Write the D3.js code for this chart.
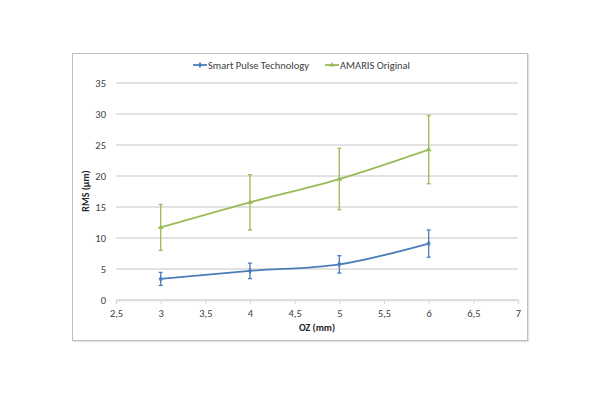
<!DOCTYPE html>
<html>
<head>
<meta charset="utf-8">
<script src="https://cdn.jsdelivr.net/npm/d3@7"></script>
<style>
body { margin: 0; background: #fff; }
text { font-family: Calibri, Carlito, "Open Sans", "Liberation Sans", sans-serif; }
</style>
</head>
<body>
<div id="chart"></div>
<script>
// data
var ozValues   = [3, 4, 5, 6];
var smartRms   = [3.4, 4.7, 5.75, 9.1];
var smartErr   = [1.05, 1.25, 1.4, 2.2];
var amarisRms  = [11.7, 15.75, 19.5, 24.25];
var amarisErr  = [3.7, 4.45, 4.95, 5.5];
var xTicks = [2.5, 3, 3.5, 4, 4.5, 5, 5.5, 6, 6.5, 7];
var yTicks = [0, 5, 10, 15, 20, 25, 30, 35];
var seriesNames = ["Smart Pulse Technology", "AMARIS Original"];

var width = 600, height = 395;
var svg = d3.select("#chart").append("svg")
	.attr("width", width)
	.attr("height", height);

// chart frame
svg.append("rect")
	.attr("x", 73.5).attr("y", 54.5)
	.attr("width", 455).attr("height", 287)
	.attr("fill", "none").attr("stroke", "#e4e4e4").attr("stroke-width", 1.5);
svg.append("rect")
	.attr("x", 72.5).attr("y", 53.5)
	.attr("width", 455).attr("height", 287)
	.attr("fill", "#fff").attr("stroke", "#bfbfbf").attr("stroke-width", 1);

var x = d3.scaleLinear().domain([2.5, 7]).range([116, 518]);
var y = d3.scaleLinear().domain([0, 35]).range([300, 83]);

// gridlines
svg.append("g").selectAll("line").data(yTicks).enter().append("line")
	.attr("x1", x(2.5)).attr("x2", x(7))
	.attr("y1", function(d){ return y(d); })
	.attr("y2", function(d){ return y(d); })
	.attr("stroke", "#d9d9d9").attr("stroke-width", 1.3);

// x axis
var xAxis = svg.append("g").attr("transform", "translate(0," + y(0) + ")")
	.call(d3.axisBottom(x).tickValues(xTicks).tickSize(4)
		.tickFormat(function(d){ return String(d).replace(".", ","); }));
xAxis.select(".domain").attr("stroke", "#d9d9d9").attr("stroke-width", 1.3);
xAxis.selectAll(".tick line").attr("stroke", "#d9d9d9");
xAxis.selectAll("text").attr("font-size", 10.5).attr("fill", "#404040").attr("dy", "0.95em")
	.style("font-family", "Calibri, Carlito, 'Open Sans', sans-serif");

// y axis labels
svg.append("g").selectAll("text").data(yTicks).enter().append("text")
	.attr("x", 106).attr("y", function(d){ return y(d) + 3.8; })
	.attr("text-anchor", "end").attr("font-size", 10.5).attr("fill", "#404040")
	.text(function(d){ return d; });

// axis titles
svg.append("text").attr("x", 317).attr("y", 331)
	.attr("text-anchor", "middle").attr("font-size", 10).attr("font-weight", "bold")
	.attr("fill", "#262626").text("OZ (mm)");
svg.append("text").attr("transform", "translate(89,191) rotate(-90)")
	.attr("text-anchor", "middle").attr("font-size", 10).attr("font-weight", "bold")
	.attr("fill", "#262626").text("RMS (µm)");

function drawSeries(vals, errs, color, marker)
{
	var g = svg.append("g");
	var pts = ozValues.map(function(d, i){ return [x(d), y(vals[i])]; });
	g.append("path")
		.attr("d", d3.line().curve(d3.curveCatmullRom.alpha(0))(pts))
		.attr("fill", "none").attr("stroke", color).attr("stroke-width", 1.8);
	for (var i = 0; i < ozValues.length; i++) {
		var cx = x(ozValues[i]);
		var top = y(vals[i] + errs[i]), bot = y(vals[i] - errs[i]);
		g.append("line").attr("x1", cx).attr("x2", cx).attr("y1", top).attr("y2", bot)
			.attr("stroke", color).attr("stroke-width", 1.3);
		g.append("line").attr("x1", cx - 2).attr("x2", cx + 2).attr("y1", top).attr("y2", top)
			.attr("stroke", color).attr("stroke-width", 1.3);
		g.append("line").attr("x1", cx - 2).attr("x2", cx + 2).attr("y1", bot).attr("y2", bot)
			.attr("stroke", color).attr("stroke-width", 1.3);
		g.append("path")
			.attr("transform", "translate(" + cx + "," + y(vals[i]) + ")")
			.attr("d", d3.symbol().type(marker).size(14)())
			.attr("fill", color);
	}
}

drawSeries(smartRms, smartErr, "#4a7ebb", d3.symbolDiamond);
drawSeries(amarisRms, amarisErr, "#9bbb59", d3.symbolTriangle);

// legend
var legendX = [193, 325];
var legendColors = ["#4a7ebb", "#9bbb59"];
var legendMarks = [d3.symbolDiamond, d3.symbolTriangle];
seriesNames.forEach(function(name, i){
	var lg = svg.append("g").attr("transform", "translate(" + legendX[i] + ",65)");
	lg.append("line").attr("x1", 0).attr("x2", 14).attr("y1", 0).attr("y2", 0)
		.attr("stroke", legendColors[i]).attr("stroke-width", 1.8);
	lg.append("path").attr("transform", "translate(7,0)")
		.attr("d", d3.symbol().type(legendMarks[i]).size(12)())
		.attr("fill", legendColors[i]);
	lg.append("text").attr("x", 15).attr("y", 3.8).attr("font-size", 10.5)
		.attr("fill", "#404040").text(name);
});
</script>
</body>
</html>
